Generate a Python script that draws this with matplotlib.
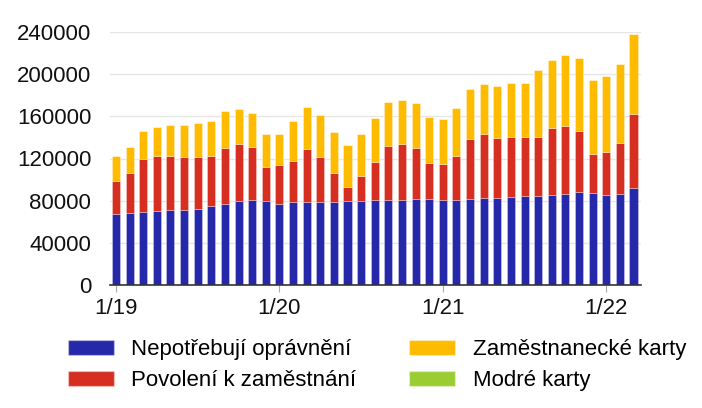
import numpy as np
import matplotlib.pyplot as plt
from matplotlib.patches import Patch

plt.rcParams['font.family'] = ['Liberation Sans', 'DejaVu Sans']

# měsíce 1/2019 - 3/2022
mesice = [f"{m}/{r}" for r in range(19, 23) for m in range(1, 13)][:39]

nepotrebuji = [67700, 68600, 69250, 70200, 70800, 71500, 72400, 74600, 77150, 79400,
               80300, 79700, 77150, 78400, 78700, 78400, 78400, 79400, 79700, 80300,
               80300, 80950, 81600, 81600, 80300, 80600, 81600, 82200, 82850, 83150,
               84100, 84750, 85700, 86650, 87900, 86950, 85400, 86000, 91700]
povoleni_top = [98650, 105900, 119200, 122400, 122700, 121700, 121700, 122700, 130300, 133750,
                130600, 112250, 113800, 117600, 129300, 121700, 106250, 93300, 103100, 117000,
                132200, 134100, 130300, 115400, 114500, 122400, 138800, 143200, 139750, 140700,
                140400, 140700, 148600, 151150, 146400, 124300, 126500, 135000, 161900]
celkem = [122400, 130900, 145800, 149900, 151800, 152100, 153400, 155300, 164700, 166950,
          163200, 143550, 143550, 155250, 168850, 160950, 145450, 132800, 143200, 158100,
          173300, 175200, 172650, 159050, 157800, 167600, 185900, 191000, 188800, 191300,
          191300, 204300, 213750, 217850, 215000, 194800, 197950, 209300, 237800]
modre = [0] * 39

povoleni = [p - n for p, n in zip(povoleni_top, nepotrebuji)]
zamestnanecke = [c - p for c, p in zip(celkem, povoleni_top)]

barvy = ['#2528a8', '#d62e20', '#ffbb00', '#9acd32']
popisky = ['Nepotřebují oprávnění', 'Povolení k zaměstnání',
           'Zaměstnanecké karty', 'Modré karty']

fig = plt.figure(figsize=(7.02, 4.08), dpi=100)
ax = fig.add_axes([110 / 702, 1 - 285 / 408, (641 - 110) / 702, (285 - 32) / 408])

x = np.arange(len(mesice))
w = 0.59
ec = (1, 1, 1, 0.35)
bottom = np.zeros(len(x))
for vals, c in zip([nepotrebuji, povoleni, zamestnanecke, modre], barvy):
    ax.bar(x, vals, w, bottom=bottom, color=c, edgecolor=ec, linewidth=0.6, zorder=2)
    bottom += np.array(vals)

ax.set_ylim(0, 240000)
ax.set_xlim(-0.44, 38.55)
ax.set_yticks(np.arange(0, 240001, 40000))
ax.yaxis.grid(True, color='#e6e6e6', linewidth=1, zorder=0)
ax.set_axisbelow(True)

ticks = [i for i, m in enumerate(mesice) if m.startswith('1/')]
ax.set_xticks(ticks)
ax.set_xticklabels([mesice[i] for i in ticks])

for s in ['top', 'right', 'left']:
    ax.spines[s].set_visible(False)
ax.spines['bottom'].set_color('#333333')
ax.spines['bottom'].set_linewidth(1.2)
ax.tick_params(axis='y', length=0, labelsize=16, pad=13.5, colors='#111111')
ax.tick_params(axis='x', length=5, color='#aaaaaa', labelsize=16, pad=4, colors='#111111')

handles = [Patch(facecolor=c, edgecolor=(1, 1, 1, 0.35)) for c in barvy]
fig.legend(handles, popisky, ncol=2, loc='upper left', bbox_to_anchor=(68 / 702, 1 - 339 / 408),
           frameon=False, fontsize=16, handlelength=2.07, handleheight=0.68,
           handletextpad=0.77, columnspacing=2.4, labelspacing=0.45,
           borderpad=0, borderaxespad=0)

fig.savefig('out.png', dpi=100)
